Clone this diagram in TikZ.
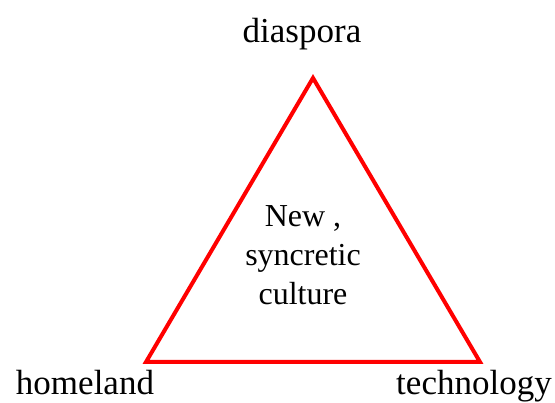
\documentclass[tikz,border=0pt]{standalone}
\usepackage{fontspec}
\setmainfont{Liberation Serif}
\begin{document}
\begin{tikzpicture}[x=1pt,y=-1pt,
  lbl/.style={font=\fontsize{35}{40}\selectfont, inner sep=0pt, anchor=base},
  edge/.style={draw=red, line width=4pt, line join=miter}]
\useasboundingbox (0,0) rectangle (555,403);
\coordinate (top) at (313,78);
\coordinate (left) at (146,362);
\coordinate (right) at (480,362);
\draw[edge] (top) -- (left) -- (right) -- cycle;
\node[lbl] (dia) at (302,43) {diaspora};
\node[lbl] (home) at (85,395) {homeland};
\node[lbl] (tech) at (474,395) {technology};
\node[font=\fontsize{32}{39}\selectfont, align=center, inner sep=0pt, anchor=base] (mid) at (303,305) {New ,\\ syncretic\\ culture};
\end{tikzpicture}
\end{document}
